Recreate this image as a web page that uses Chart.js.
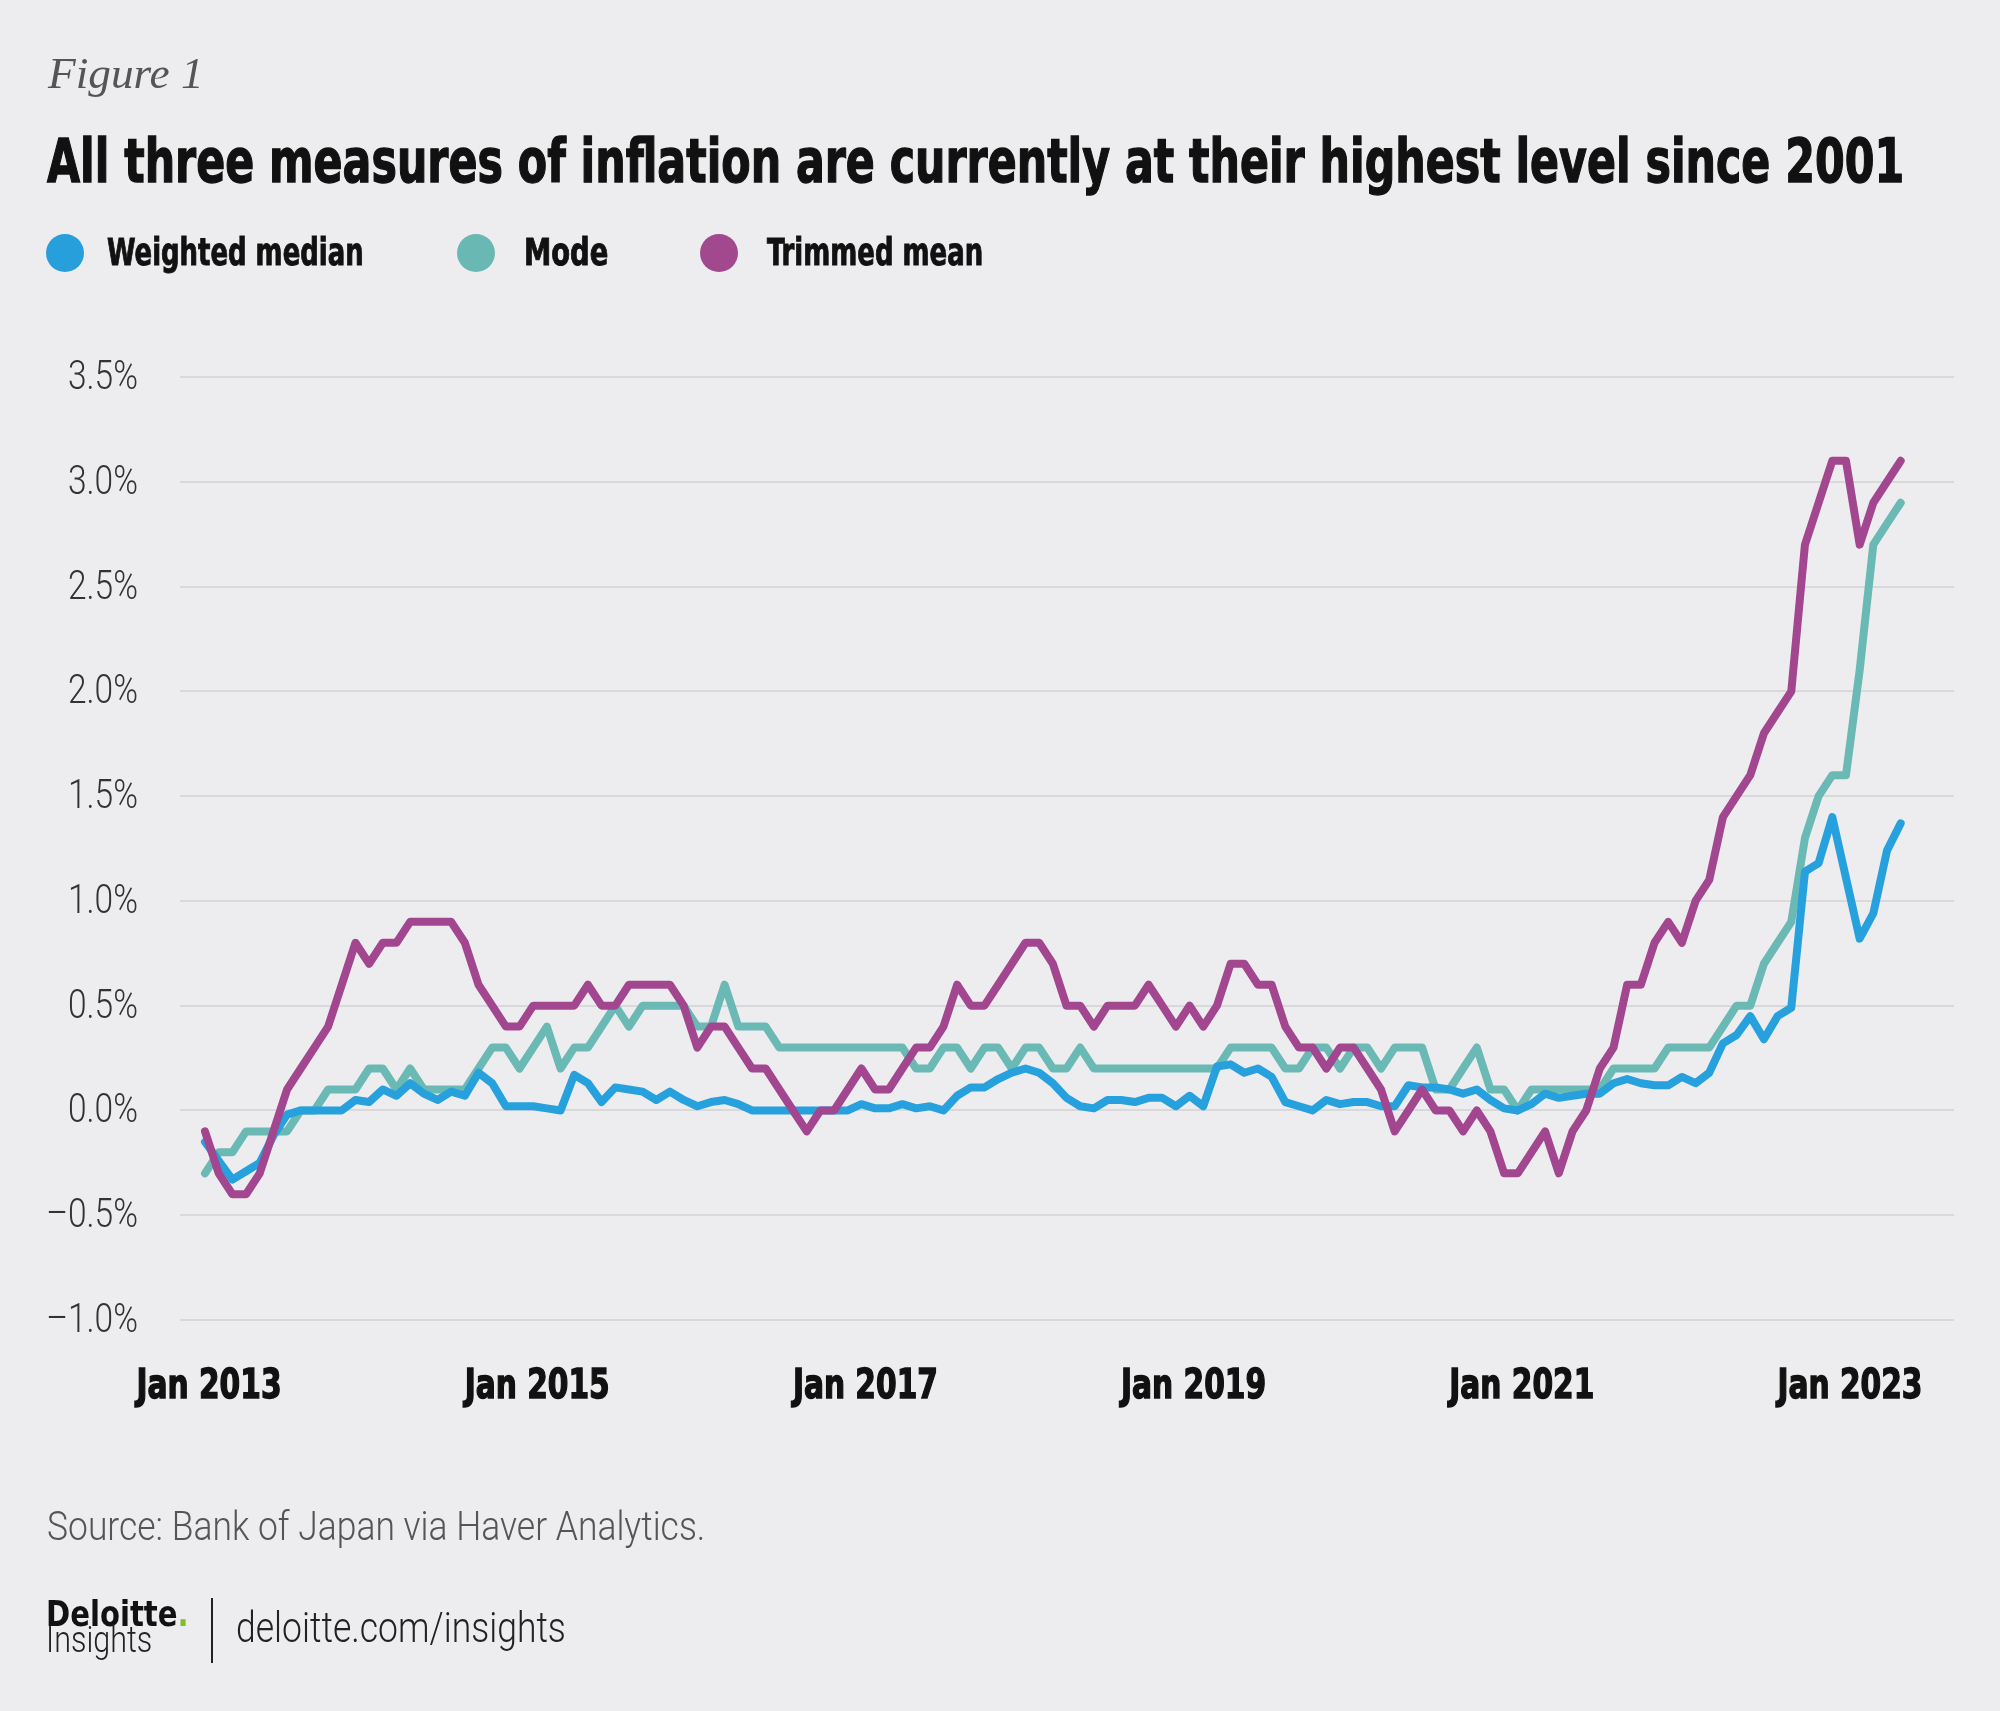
<!DOCTYPE html>
<html>
<head>
<meta charset="utf-8">
<script src="https://cdn.jsdelivr.net/npm/chart.js@4.4.0/dist/chart.umd.min.js"></script>
<style>
    html, body { margin: 0; padding: 0; background: #EDEDF0; }
    #page { position: relative; width: 2000px; height: 1711px; overflow: hidden; background: #EDEDF0; }
    #myChart { position: absolute; left: 0; top: 0; }
    .txt { position: absolute; white-space: nowrap; line-height: 1; transform-origin: 0 0; }
    .heavy { font-family: 'DejaVu Sans Condensed', 'Liberation Sans Narrow', sans-serif; font-weight: bold; color: #111; -webkit-text-stroke: 1.3px #111; }
    .light { font-family: 'Roboto', 'Lato', sans-serif; font-weight: 300; }
    .dot { position: absolute; width: 38px; height: 38px; border-radius: 50%; }
</style>
</head>
<body>
<div id="page">
    <canvas id="myChart" width="2000" height="1711"></canvas>

    <div class="txt" data-w="156" style="left:48px;top:47px;font:italic 45px 'Liberation Serif',serif;color:#555;">Figure 1</div>
    <div class="txt heavy" data-w="1857" style="left:47px;top:131px;font-size:60px;">All three measures of inflation are currently at their highest level since 2001</div>

    <div class="dot" style="left:46px;top:234px;background:#279FDB;"></div>
    <div class="txt heavy" data-w="257" style="left:107px;top:234px;font-size:37px;-webkit-text-stroke-width:0.9px;">Weighted median</div>
    <div class="dot" style="left:457px;top:234px;background:#6AB8B4;"></div>
    <div class="txt heavy" data-w="84" style="left:524px;top:234px;font-size:37px;-webkit-text-stroke-width:0.9px;">Mode</div>
    <div class="dot" style="left:700px;top:234px;background:#A1488F;"></div>
    <div class="txt heavy" data-w="216" style="left:767px;top:234px;font-size:37px;-webkit-text-stroke-width:0.9px;">Trimmed mean</div>

    <div class="txt light" data-w="658" style="left:47px;top:1506px;font-size:41px;color:#555;">Source: Bank of Japan via Haver Analytics.</div>

    <div class="txt" data-w="143" style="left:46px;top:1593px;font:bold 36px 'DejaVu Sans Condensed','Liberation Sans',sans-serif;color:#111;">Deloitte<span style="color:#86BC25;">.</span></div>
    <div class="txt light" data-w="106" style="left:46px;top:1622px;font-size:36px;color:#222;">Insights</div>
    <div style="position:absolute;left:211px;top:1598px;width:2px;height:65px;background:#222;"></div>
    <div class="txt light" data-w="330" style="left:236px;top:1607px;font-size:42px;color:#222;">deloitte.com/insights</div>
</div>

<script>
// monthly, Jan 2013 - May 2023
const startYear = 2013;
const monthCount = 125;

const weightedMedian = [
    -0.15, -0.24, -0.33, -0.29, -0.25, -0.12, -0.02, 0.00, 0.00, 0.00, 0.00, 0.05,
    0.04, 0.10, 0.07, 0.13, 0.08, 0.05, 0.09, 0.07, 0.18, 0.13, 0.02, 0.02,
    0.02, 0.01, 0.00, 0.17, 0.13, 0.04, 0.11, 0.10, 0.09, 0.05, 0.09, 0.05,
    0.02, 0.04, 0.05, 0.03, 0.00, 0.00, 0.00, 0.00, 0.00, 0.00, 0.00, 0.00,
    0.03, 0.01, 0.01, 0.03, 0.01, 0.02, 0.00, 0.07, 0.11, 0.11, 0.15, 0.18,
    0.20, 0.18, 0.13, 0.06, 0.02, 0.01, 0.05, 0.05, 0.04, 0.06, 0.06, 0.02,
    0.07, 0.02, 0.21, 0.22, 0.18, 0.20, 0.16, 0.04, 0.02, 0.00, 0.05, 0.03,
    0.04, 0.04, 0.02, 0.02, 0.12, 0.11, 0.11, 0.10, 0.08, 0.10, 0.05, 0.01,
    0.00, 0.03, 0.08, 0.06, 0.07, 0.08, 0.08, 0.13, 0.15, 0.13, 0.12, 0.12,
    0.16, 0.13, 0.18, 0.32, 0.36, 0.45, 0.34, 0.45, 0.49, 1.14, 1.18, 1.40,
    1.11, 0.82, 0.94, 1.24, 1.37
];

const mode = [
    -0.3, -0.2, -0.2, -0.1, -0.1, -0.1, -0.1, 0.0, 0.0, 0.1, 0.1, 0.1,
    0.2, 0.2, 0.1, 0.2, 0.1, 0.1, 0.1, 0.1, 0.2, 0.3, 0.3, 0.2,
    0.3, 0.4, 0.2, 0.3, 0.3, 0.4, 0.5, 0.4, 0.5, 0.5, 0.5, 0.5,
    0.4, 0.4, 0.6, 0.4, 0.4, 0.4, 0.3, 0.3, 0.3, 0.3, 0.3, 0.3,
    0.3, 0.3, 0.3, 0.3, 0.2, 0.2, 0.3, 0.3, 0.2, 0.3, 0.3, 0.2,
    0.3, 0.3, 0.2, 0.2, 0.3, 0.2, 0.2, 0.2, 0.2, 0.2, 0.2, 0.2,
    0.2, 0.2, 0.2, 0.3, 0.3, 0.3, 0.3, 0.2, 0.2, 0.3, 0.3, 0.2,
    0.3, 0.3, 0.2, 0.3, 0.3, 0.3, 0.1, 0.1, 0.2, 0.3, 0.1, 0.1,
    0.0, 0.1, 0.1, 0.1, 0.1, 0.1, 0.1, 0.2, 0.2, 0.2, 0.2, 0.3,
    0.3, 0.3, 0.3, 0.4, 0.5, 0.5, 0.7, 0.8, 0.9, 1.3, 1.5, 1.6,
    1.6, 2.1, 2.7, 2.8, 2.9
];

const trimmedMean = [
    -0.1, -0.3, -0.4, -0.4, -0.3, -0.1, 0.1, 0.2, 0.3, 0.4, 0.6, 0.8,
    0.7, 0.8, 0.8, 0.9, 0.9, 0.9, 0.9, 0.8, 0.6, 0.5, 0.4, 0.4,
    0.5, 0.5, 0.5, 0.5, 0.6, 0.5, 0.5, 0.6, 0.6, 0.6, 0.6, 0.5,
    0.3, 0.4, 0.4, 0.3, 0.2, 0.2, 0.1, 0.0, -0.1, 0.0, 0.0, 0.1,
    0.2, 0.1, 0.1, 0.2, 0.3, 0.3, 0.4, 0.6, 0.5, 0.5, 0.6, 0.7,
    0.8, 0.8, 0.7, 0.5, 0.5, 0.4, 0.5, 0.5, 0.5, 0.6, 0.5, 0.4,
    0.5, 0.4, 0.5, 0.7, 0.7, 0.6, 0.6, 0.4, 0.3, 0.3, 0.2, 0.3,
    0.3, 0.2, 0.1, -0.1, 0.0, 0.1, 0.0, 0.0, -0.1, 0.0, -0.1, -0.3,
    -0.3, -0.2, -0.1, -0.3, -0.1, 0.0, 0.2, 0.3, 0.6, 0.6, 0.8, 0.9,
    0.8, 1.0, 1.1, 1.4, 1.5, 1.6, 1.8, 1.9, 2.0, 2.7, 2.9, 3.1,
    3.1, 2.7, 2.9, 3.0, 3.1
];

const xTickMonths = [0, 24, 48, 72, 96, 120];
const xTickLabels = ['Jan 2013', 'Jan 2015', 'Jan 2017', 'Jan 2019', 'Jan 2021', 'Jan 2023'];

const monthNames = ['Jan','Feb','Mar','Apr','May','Jun','Jul','Aug','Sep','Oct','Nov','Dec'];
const months = [];
for (let i = 0; i < monthCount; i++) {
    months.push(monthNames[i % 12] + ' ' + (startYear + Math.floor(i / 12)));
}

function toPoints(values) {
    return values.map(function (v, i) { return { x: i, y: v }; });
}

function yLabel(value) {
    const s = Math.abs(value).toFixed(1) + '%';
    return value < 0 ? '\u2013' + s : s;
}

function series(label, values, color, order) {
    return {
        label: label,
        data: toPoints(values),
        borderColor: color,
        backgroundColor: color,
        borderWidth: 8,
        pointRadius: 0,
        tension: 0,
        borderJoinStyle: 'round',
        borderCapStyle: 'round',
        order: order
    };
}

// tick labels drawn at the scales' own positions, squeezed to the narrow face of the figure
const tickLabels = {
    id: 'tickLabels',
    afterDraw: function (chart) {
        const ctx = chart.ctx;
        const xs = chart.scales.x;
        const ys = chart.scales.y;
        ctx.save();

        ctx.font = '300 40px Roboto, Lato, sans-serif';
        ctx.fillStyle = '#333';
        ctx.textAlign = 'right';
        ctx.textBaseline = 'alphabetic';
        const ySquash = 70 / ctx.measureText('3.5%').width;
        ys.ticks.forEach(function (t) {
            const py = ys.getPixelForValue(t.value);
            ctx.save();
            ctx.translate(ys.right - 42, py + 12);
            ctx.scale(ySquash, 1);
            ctx.fillText(yLabel(t.value), 0, 0);
            ctx.restore();
        });

        ctx.font = "bold 41px 'DejaVu Sans Condensed', sans-serif";
        ctx.fillStyle = '#111';
        ctx.strokeStyle = '#111';
        ctx.lineWidth = 1.4;
        ctx.textAlign = 'center';
        const xSquash = 145 / ctx.measureText('Jan 2013').width;
        xTickMonths.forEach(function (m, i) {
            const px = xs.getPixelForValue(m) + 4;
            ctx.save();
            ctx.translate(px, 1398);
            ctx.scale(xSquash, 1);
            ctx.fillText(xTickLabels[i], 0, 0);
            ctx.strokeText(xTickLabels[i], 0, 0);
            ctx.restore();
        });

        ctx.restore();
    }
};

const config = {
    type: 'line',
    data: {
        datasets: [
            series('Trimmed mean', trimmedMean, '#A2478F', 0),
            series('Weighted median', weightedMedian, '#27A1DD', 1),
            series('Mode', mode, '#6AB9B5', 2)
        ]
    },
    options: {
        responsive: false,
        animation: false,
        devicePixelRatio: 1,
        layout: { padding: { top: 377, right: 46, bottom: 0, left: 0 } },
        plugins: { legend: { display: false }, tooltip: { enabled: false } },
        scales: {
            x: {
                type: 'linear',
                min: -1.83,
                max: 127.9,
                grid: { display: false, drawTicks: false },
                border: { display: false },
                afterBuildTicks: function (axis) {
                    axis.ticks = xTickMonths.map(function (m) { return { value: m }; });
                },
                afterFit: function (scale) { scale.height = 391; },
                ticks: { display: false }
            },
            y: {
                min: -1,
                max: 3.5,
                grid: { color: '#D9D9DC', lineWidth: 2, drawTicks: false },
                border: { display: false },
                afterFit: function (scale) { scale.width = 180; },
                ticks: { stepSize: 0.5, display: false }
            }
        }
    },
    plugins: [tickLabels]
};

const myChart = new Chart(
    document.getElementById('myChart'),
    config
);

// squeeze the html texts to the widths they have in the figure
document.querySelectorAll('.txt[data-w]').forEach(function (el) {
    const w = el.offsetWidth;
    const target = parseFloat(el.getAttribute('data-w'));
    if (w > 0) {
        el.style.transform = 'scaleX(' + (target / w) + ')';
    }
});
</script>
</body>
</html>
